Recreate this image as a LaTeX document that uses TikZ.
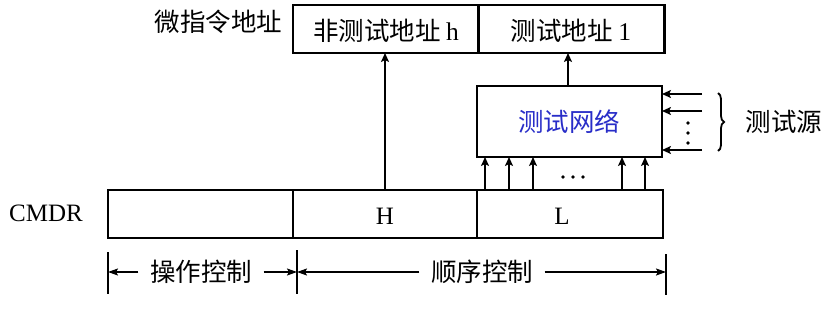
\documentclass[tikz,border=0pt]{standalone}
\usepackage{fontspec}
\setmainfont{Liberation Serif}
\newfontfamily\cjk{Noto Sans CJK SC}
\usetikzlibrary{arrows.meta,decorations.pathreplacing}
\definecolor{netblue}{RGB}{40,45,200}
\begin{document}
\begin{tikzpicture}[x=1pt,y=-1pt,
  box/.style={draw, line width=2.3pt, inner sep=0pt, outer sep=0pt},
  arr/.style={line width=2.5pt, -{Stealth[length=9pt,width=8pt,inset=2pt]}},
  darr/.style={line width=1.8pt, -{Stealth[length=10pt,width=7pt,inset=2pt]}},
  cn/.style={font=\cjk\fontsize{25.5}{28}\selectfont},
  lat/.style={font=\fontsize{25}{28}\selectfont},
  tick/.style={line width=1.8pt},
  dot/.style={circle, fill, inner sep=0pt, minimum size=3.6pt}]
\useasboundingbox (0,0) rectangle (834,313);
% top address boxes
\node[box, minimum width=185pt, minimum height=48pt] (th) at (385.5,29) {};
\node[box, minimum width=186pt, minimum height=48pt] (tl) at (571.5,29) {};
\node[cn, anchor=center] (thl) at (386,31) {非测试地址\ \fontspec{Liberation Serif}h};
\node[cn, anchor=center] (tll) at (571,31) {测试地址\ \fontspec{Liberation Serif}1};
\node[cn, anchor=east] (mia) at (286,22) {微指令地址};
% test network
\node[box, minimum width=185pt, minimum height=71pt] (net) at (569.5,121.5) {};
\node[cn, text=netblue] (netl) at (569,122) {测试网络};
% CMDR
\node[box, minimum width=185pt, minimum height=48pt] (c1) at (200.5,214) {};
\node[box, minimum width=184pt, minimum height=48pt] (cH) at (385,214) {};
\node[box, minimum width=186pt, minimum height=48pt] (cL) at (570,214) {};
\node[lat] (cmdr) at (46,213) {CMDR};
\node[lat] (hl) at (385,216) {H};
\node[lat] (ll) at (562,216) {L};
% vertical arrows
\draw[arr] (cH.north) -- (cH.north |- th.south);
\draw[arr] (net.north -| 568,0) -- (tl.south -| 568,0);
\foreach \x in {485,509,533,622,645}
  \draw[arr] (cL.north -| \x,0) -- (net.south -| \x,0);
\foreach \x in {563,573,583}
  \node[dot] at (\x,177) {};
% source arrows
\coordinate (s1) at (702,94);
\coordinate (s2) at (702,111);
\coordinate (s3) at (702,150);
\draw[arr] (s1) -- (net.east |- s1);
\draw[arr] (s2) -- (net.east |- s2);
\draw[arr] (s3) -- (net.east |- s3);
\foreach \y in {123,133,143}
  \node[dot] at (688,\y) {};
\coordinate (b1) at (718,93);
\coordinate (b2) at (718,151);
\draw[line width=1.8pt, decorate, decoration={brace, amplitude=6pt}] (b1) -- (b2);
\node[cn] (src) at (784,122) {测试源};
% dimension lines
\coordinate (k1t) at (108,252);
\coordinate (k1b) at (108,294);
\coordinate (k2t) at (297,250);
\coordinate (k2b) at (297,294);
\coordinate (k3t) at (666,254);
\coordinate (k3b) at (666,295);
\draw[tick] (k1t) -- (k1b);
\draw[tick] (k2t) -- (k2b);
\draw[tick] (k3t) -- (k3b);
\node[cn] (op) at (201,272) {操作控制};
\node[cn] (seq) at (482,272) {顺序控制};
\draw[darr] (op.west) ++(-8,0) coordinate (o1) -- (o1 -| k1t);
\draw[darr] (op.east) ++(8,0) coordinate (o2) -- (o2 -| k2t);
\draw[darr] (seq.west) ++(-8,0) coordinate (q1) -- (q1 -| k2t);
\draw[darr] (seq.east) ++(8,0) coordinate (q2) -- (q2 -| k3t);
\end{tikzpicture}
\end{document}
